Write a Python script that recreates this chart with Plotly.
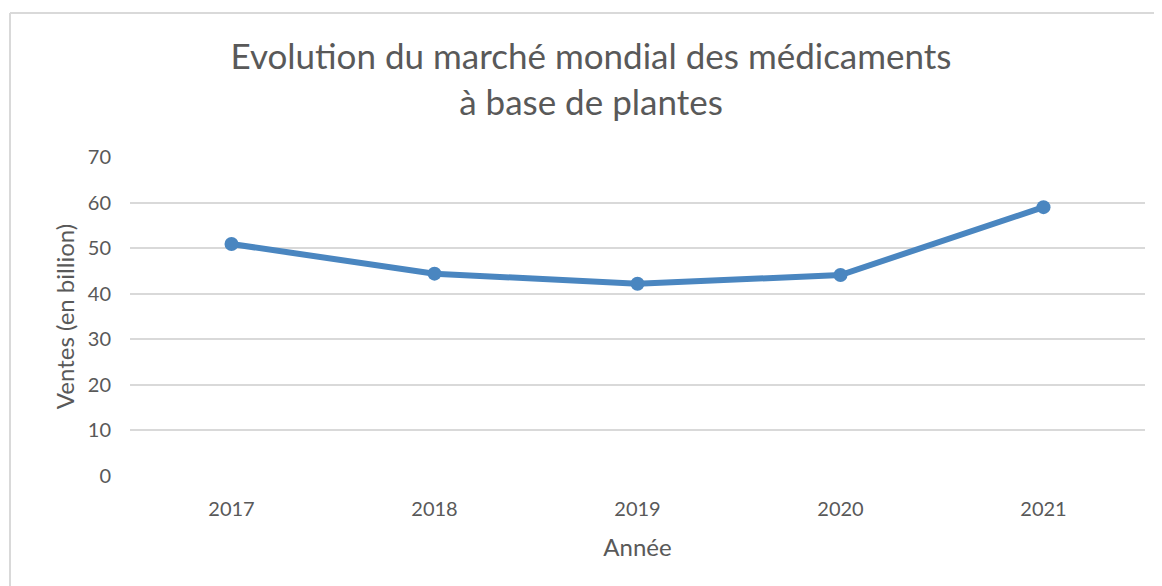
import plotly.graph_objects as go

years = ["2017", "2018", "2019", "2020", "2021"]
ventes = [50.9, 44.4, 42.2, 44.1, 59.0]
y_ticks = [0, 10, 20, 30, 40, 50, 60, 70]

# page body has an 8px margin, so figure coordinates = screen - 8
OFF = 8
W, H = 1162 - OFF, 586 - OFF
L, R, T, B = 130 - OFF, 1162 - 1145, 157 - OFF, 586 - 476
pw, ph = W - L - R, H - T - B

def px(x):
    return (x - OFF - L) / pw

def py(y):
    return (H - B - (y - OFF)) / ph

fig = go.Figure()
fig.add_trace(go.Scatter(
    x=years, y=ventes, mode="lines+markers",
    line=dict(color="#4A86C0", width=6),
    marker=dict(color="#4A86C0", size=14),
    showlegend=False, hoverinfo="x+y",
))

FONT = "Lato"
GRAY = "#595959"

fig.update_layout(
    width=W, height=H,
    margin=dict(l=L, r=R, t=T, b=B),
    paper_bgcolor="white", plot_bgcolor="white",
    font=dict(family=FONT, color=GRAY),
    title=dict(
        text="Evolution du marché mondial des médicaments<br>à base de plantes",
        x=(591 - OFF) / W, xanchor="center",
        y=1 - (69 - OFF) / H, yanchor="middle",
        font=dict(family=FONT, size=35, color=GRAY),
    ),
    xaxis=dict(
        type="category", range=[-0.5, 4.5],
        showgrid=False, showline=False, zeroline=False, ticks="",
        tickfont=dict(size=20, color=GRAY),
        ticklabelstandoff=19,
        title=dict(text="Année", font=dict(size=24, color=GRAY), standoff=20),
    ),
    yaxis=dict(
        range=[0, 70], tickvals=y_ticks,
        showgrid=True, gridcolor="#D9D9D9", gridwidth=2,
        zeroline=False, showline=False, ticks="",
        tickfont=dict(size=20, color=GRAY),
        ticklabelstandoff=18,
        title=dict(text="Ventes (en billion)", font=dict(size=24, color=GRAY), standoff=6),
    ),
)

# chart area border (top and left visible)
fig.add_shape(type="line", xref="paper", yref="paper",
              x0=px(10), x1=px(1200), y0=py(13), y1=py(13),
              line=dict(color="#D9D9D9", width=2))
fig.add_shape(type="line", xref="paper", yref="paper",
              x0=px(10), x1=px(10), y0=py(13), y1=py(620),
              line=dict(color="#D9D9D9", width=2))

fig.write_html("out.html")
